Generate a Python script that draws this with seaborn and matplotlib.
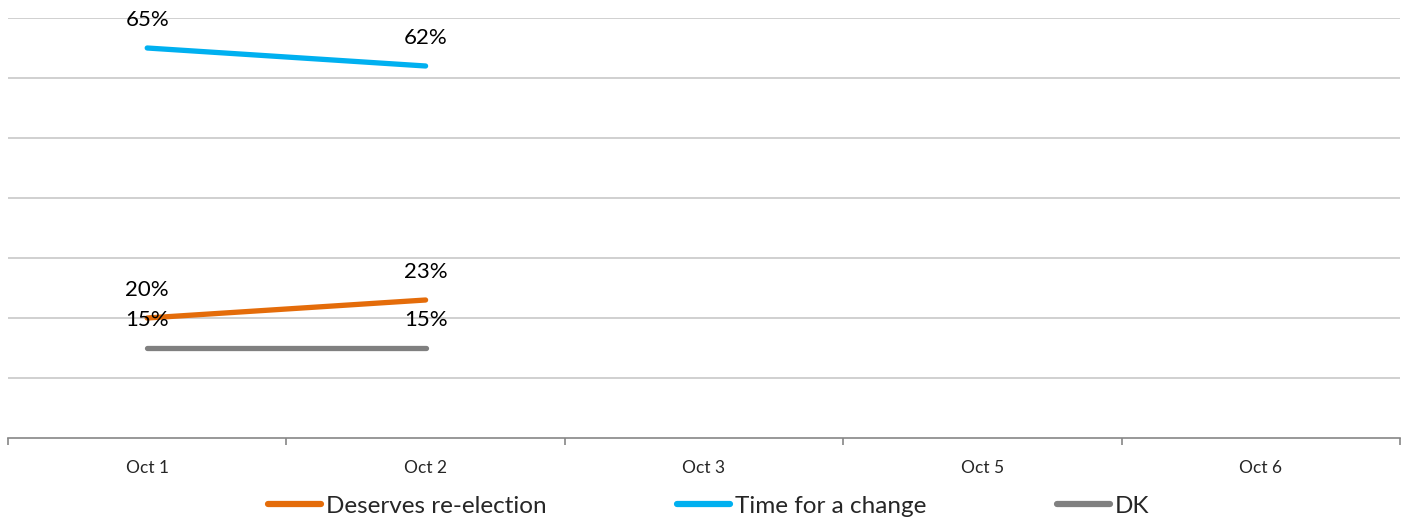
import numpy as np
import pandas as pd
import matplotlib
matplotlib.use("Agg")
import matplotlib.pyplot as plt
import seaborn as sns

# ---- data ----
categories = ["Oct 1", "Oct 2", "Oct 3", "Oct 5", "Oct 6"]
series_names = ["Deserves re-election", "Time for a change", "DK"]
deserves = [20, 23]
time_change = [65, 62]
dk = [15, 15]
colors = ["#E46C0A", "#00B0F0", "#808080"]

sns.set_theme(style="white")
plt.rcParams["font.family"] = ["Lato", "DejaVu Sans"]

rows = []
for name, vals in zip(series_names, [deserves, time_change, dk]):
    for i, v in enumerate(vals):
        rows.append({"date": categories[i], "pos": categories.index(categories[i]),
                     "series": name, "value": v})
df = pd.DataFrame(rows)

fig = plt.figure(figsize=(14.09, 5.21), dpi=100)
ax = fig.add_axes([8 / 1409, 83 / 521, 1392 / 1409, 420 / 521])

sns.lineplot(data=df, x="pos", y="value", hue="series", hue_order=series_names,
             palette=colors, linewidth=3.8, ax=ax, legend=False,
             solid_capstyle="round")

# data labels above each point
for _, r in df.iterrows():
    ax.annotate(f"{r['value']}%", (r["pos"], r["value"]), xytext=(0, 20),
                textcoords="offset points", ha="center", va="center",
                fontsize=16, color="black")

ax.set_xlim(-0.5, len(categories) - 0.5)
ax.set_ylim(0, 70)
ax.set_yticks(np.arange(10, 80, 10))
ax.yaxis.grid(True, color="#C8C8C8", linewidth=1.2)
ax.tick_params(axis="y", left=False, labelleft=False)
ax.set_xticks(range(len(categories)))
ax.set_xticklabels(categories, fontsize=12.5)
ax.set_xticks(np.arange(-0.5, len(categories), 1), minor=True)
ax.tick_params(axis="x", which="major", length=0, pad=16)
ax.tick_params(axis="x", which="minor", length=5, color="#868686", width=1.2,
               bottom=True, direction="out")
ax.set_xlabel("")
ax.set_ylabel("")
for side in ["top", "left", "right"]:
    ax.spines[side].set_visible(False)
ax.spines["bottom"].set_color("#868686")
ax.spines["bottom"].set_linewidth(1.2)

handles = [plt.Line2D([0], [0], color=c, linewidth=4.5, solid_capstyle="round")
           for c in colors]
fig.legend(handles, series_names, loc="center", bbox_to_anchor=(0.503, 15 / 521),
           ncol=3, frameon=False, fontsize=17.5, handlelength=2.2,
           handletextpad=0.2, columnspacing=5.35)

fig.savefig("out.png", dpi=100)
